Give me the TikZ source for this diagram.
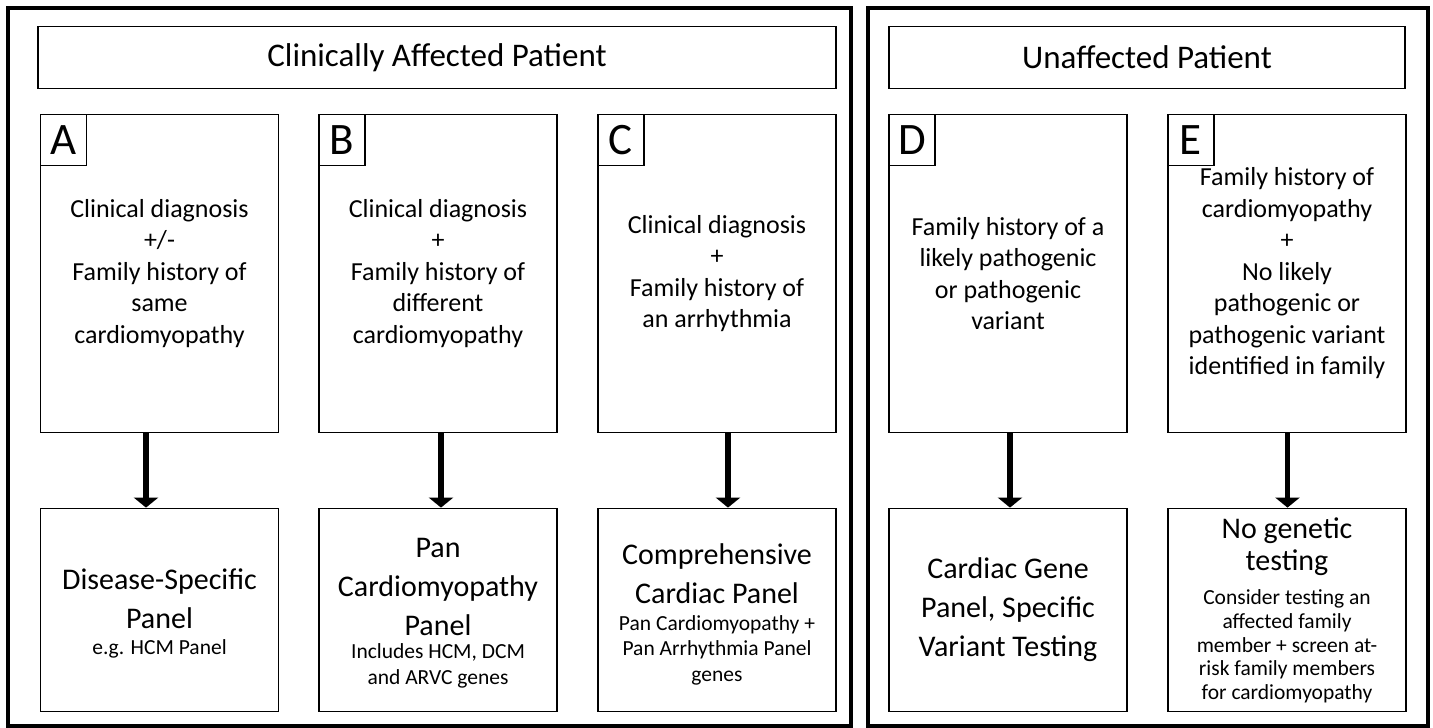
\documentclass[tikz,border=0pt]{standalone}
\usepackage{fontspec}
\setmainfont{Carlito}
\usetikzlibrary{arrows.meta}
\begin{document}
\begin{tikzpicture}[x=1pt,y=-1pt,
  frame/.style={draw, line width=4pt},
  titlebox/.style={draw, line width=1.8pt, minimum height=62pt, inner sep=0pt, font=\fontsize{33}{39}\selectfont},
  topbox/.style={draw, line width=1.8pt, minimum width=238pt, minimum height=318pt, inner sep=0pt, align=center, font=\fontsize{26}{31.5}\selectfont},
  botbox/.style={draw, line width=1.8pt, minimum width=238pt, minimum height=203pt, inner sep=0pt},
  letterbox/.style={draw, line width=1.6pt, minimum width=46pt, minimum height=51pt, inner sep=0pt, anchor=north west, font=\fontsize{45}{50}\selectfont},
  bigtxt/.style={align=center, inner sep=0pt, font=\fontsize{30}{37}\selectfont},
  smalltxt/.style={align=center, inner sep=0pt, font=\fontsize{21.5}{25.5}\selectfont},
  flow/.style={line width=5.5pt, -{Triangle[length=10pt,width=24pt]}}
]
\useasboundingbox (0,0) rectangle (1433,728);
% outer frames
\draw[frame] (8,8) rectangle (850.5,725.5);
\draw[frame] (867.5,8) rectangle (1427.5,725.5);
% titles
\node[titlebox, minimum width=798pt] (t1) at (437,57.5) {\raisebox{-2pt}{Clinically Affected Patient}};
\node[titlebox, minimum width=516pt] (t2) at (1147,57.5) {\raisebox{-2pt}{Unaffected Patient}};
% top boxes
\node[topbox] (ta) at (159.5,273.5) {Clinical diagnosis\\+/-\\Family history of\\same\\cardiomyopathy};
\node[topbox] (tb) at (438,273.5) {Clinical diagnosis\\+\\Family history of\\different\\cardiomyopathy};
\node[topbox] (tc) at (717,273.5) {Clinical diagnosis\\+\\Family history of\\an arrhythmia};
\node[topbox] (td) at (1008,273.5) {Family history of a\\likely pathogenic\\or pathogenic\\variant};
\node[topbox] (te) at (1287,273.5) {Family history of\\cardiomyopathy\\+\\No likely\\pathogenic or\\pathogenic variant\\identified in family};
% letters
\node[letterbox] (la) at (ta.north west) {A};
\node[letterbox] (lb) at (tb.north west) {B};
\node[letterbox] (lc) at (tc.north west) {C};
\node[letterbox] (ld) at (td.north west) {D};
\node[letterbox] (le) at (te.north west) {E};
% bottom boxes
\node[botbox] (ba) at (159.5,610) {};
\node[botbox] (bb) at (438,610) {};
\node[botbox] (bc) at (717,610) {};
\node[botbox] (bd) at (1008,610) {};
\node[botbox] (be) at (1287,610) {};
% bottom texts
\node[bigtxt] (ba1) at (159.5,598.5) {Disease-Specific\\[2pt]Panel};
\node[smalltxt] (ba2) at (159.5,649) {e.g. HCM Panel};
\node[bigtxt] (bb1) at (438,587) {Pan\\[2pt]Cardiomyopathy\\[2pt]Panel};
\node[smalltxt] (bb2) at (438,666) {Includes HCM, DCM\\and ARVC genes};
\node[bigtxt] (bc1) at (717,574) {Comprehensive\\[2pt]Cardiac Panel};
\node[smalltxt] (bc2) at (717,650) {Pan Cardiomyopathy +\\Pan Arrhythmia Panel\\genes};
\node[bigtxt] (bd1) at (1008,610) {Cardiac Gene\\[2pt]Panel, Specific\\[2pt]Variant Testing};
\node[bigtxt, font=\fontsize{30}{32}\selectfont] (be1) at (1287,547) {No genetic\\testing};
\node[smalltxt, font=\fontsize{21.5}{23.75}\selectfont] (be2) at (1287,646.5) {Consider testing an\\affected family\\member + screen at-\\risk family members\\for cardiomyopathy};
% arrows
\draw[flow] ([xshift=-13.5pt]ta.south) -- ([xshift=-13.5pt]ba.north);
\draw[flow] ([xshift=3pt]tb.south) -- ([xshift=3pt]bb.north);
\draw[flow] ([xshift=11pt]tc.south) -- ([xshift=11pt]bc.north);
\draw[flow] ([xshift=2pt]td.south) -- ([xshift=2pt]bd.north);
\draw[flow] ([xshift=0.5pt]te.south) -- ([xshift=0.5pt]be.north);
\end{tikzpicture}
\end{document}
